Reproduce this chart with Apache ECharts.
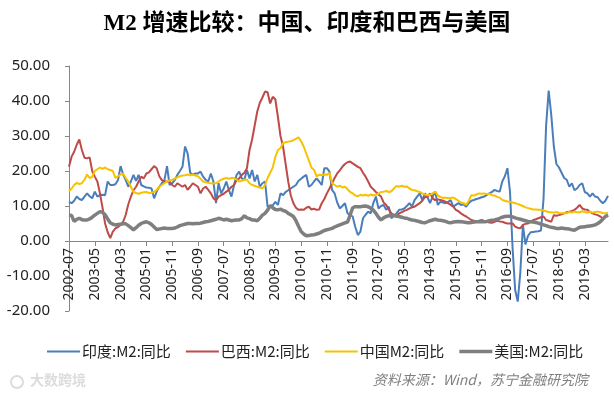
<!DOCTYPE html>
<html>
<head>
<meta charset="utf-8">
<script src="https://cdn.jsdelivr.net/npm/echarts@6/dist/echarts.min.js"></script>
<style>
html,body{margin:0;padding:0;background:#fff;}
#chart{width:614px;height:396px;}
</style>
</head>
<body>
<div id="chart"></div>
<script>
// Month categories: 2002-07 .. 2019-12
var startYear = 2002, startMonth = 7, monthCount = 210;
var categories = [];
for (var k = 0; k < monthCount; k++) {
  var m = startMonth - 1 + k;
  var yy = startYear + Math.floor(m / 12);
  var mm = (m % 12) + 1;
  categories.push(yy + '-' + (mm < 10 ? '0' + mm : mm));
}

var seriesNames = ['印度:M2:同比', '巴西:M2:同比', '中国M2:同比', '美国:M2:同比'];

var india = [
  11.2, 10.8, 11.5, 12.7, 12.0, 11.7, 12.7, 13.6, 12.8, 12.2,
  14.1, 12.7, 13.1, 13.2, 13.1, 17.0, 16.0, 16.0, 16.2, 17.4,
  21.4, 19.0, 17.4, 15.5, 17.0, 18.9, 17.2, 18.9, 16.0, 15.6,
  15.3, 15.2, 15.0, 12.2, 14.1, 15.5, 16.5, 17.4, 21.4, 16.0,
  16.5, 17.4, 18.9, 20.0, 21.2, 27.0, 25.0, 19.5, 19.0, 19.3,
  19.3, 19.8, 18.4, 17.5, 17.0, 19.3, 17.0, 10.8, 16.5, 13.6,
  15.0, 17.0, 14.5, 12.7, 16.0, 18.9, 19.8, 17.9, 17.5, 20.3,
  17.9, 20.3, 17.0, 18.9, 15.5, 16.5, 17.0, 9.8, 10.0, 10.2,
  11.2, 10.3, 13.6, 13.1, 14.0, 14.5, 15.0, 15.5, 16.0, 17.2,
  17.8, 18.4, 18.9, 15.5, 16.0, 17.0, 17.9, 17.0, 16.0, 20.8,
  20.8, 19.8, 14.6, 13.6, 11.0, 9.3, 10.0, 10.8, 7.9, 7.5,
  7.0, 4.0, 1.7, 2.7, 6.5, 7.5, 8.4, 7.9, 10.8, 12.7,
  9.3, 10.0, 10.3, 8.9, 9.8, 6.5, 7.2, 7.9, 8.9, 9.0,
  9.3, 10.0, 10.8, 9.8, 11.7, 12.7, 13.6, 11.7, 13.6, 12.5,
  10.8, 12.7, 14.1, 10.3, 11.2, 11.0, 10.8, 11.2, 11.7, 9.8,
  10.3, 10.8, 10.3, 10.5, 9.8, 10.8, 11.5, 11.7, 12.0, 12.2,
  12.5, 12.7, 13.2, 13.6, 14.0, 14.6, 14.3, 14.1, 17.0, 18.5,
  20.8, 14.0, -2.0, -14.0, -17.3, -9.0, 4.5, -1.0, 1.5, 2.5,
  2.6, 2.7, 2.8, 3.0, 12.0, 33.0, 43.0, 36.0, 27.0, 22.0,
  21.0, 19.5, 18.0, 17.5, 15.5, 16.5, 14.5, 15.0, 16.0, 16.5,
  14.0, 13.6, 12.7, 13.6, 12.7, 12.5, 11.5, 10.8, 11.5, 12.9
];

var brazil = [
  21.2, 24.1, 25.5, 27.5, 29.0, 26.0, 23.8, 23.6, 23.9, 20.0,
  18.4, 17.0, 13.6, 9.5, 5.0, 2.5, 0.8, 2.7, 3.6, 4.0,
  4.6, 5.5, 7.5, 10.5, 12.7, 14.5, 15.5, 17.0, 18.4, 17.9,
  19.3, 19.6, 20.5, 21.4, 20.8, 18.5, 17.4, 17.0, 17.0, 17.0,
  16.0, 15.5, 16.5, 16.0, 15.5, 16.0, 14.6, 15.5, 16.5, 16.0,
  15.5, 13.6, 15.0, 15.5, 14.6, 13.6, 12.2, 11.7, 12.7, 13.1,
  13.5, 14.1, 14.6, 15.5, 16.0, 17.4, 17.9, 18.9, 19.5, 20.8,
  26.0, 29.0, 33.0, 37.0, 39.5, 41.0, 42.7, 42.5, 39.3, 41.2,
  40.5, 35.5, 30.0, 27.0, 22.0, 17.0, 13.0, 10.8, 9.5, 8.9,
  9.0, 8.9, 9.5, 9.8, 9.0, 9.2, 8.9, 9.0, 10.8, 12.0,
  13.6, 15.0, 16.5, 18.0, 19.3, 20.2, 21.2, 22.0, 22.5, 22.7,
  22.2, 21.7, 21.2, 20.8, 19.5, 18.4, 17.0, 15.5, 14.8, 14.0,
  13.3, 12.7, 11.0, 10.3, 9.0, 7.9, 7.4, 7.0, 7.9, 8.2,
  8.6, 8.9, 9.3, 9.6, 9.8, 10.3, 10.8, 11.5, 12.5, 12.7,
  13.6, 12.2, 11.7, 11.9, 11.7, 11.5, 11.2, 10.8, 10.3, 9.8,
  8.9, 8.5, 7.9, 7.4, 7.0, 6.5, 6.0, 5.8, 5.5, 5.8,
  6.0, 5.7, 5.5, 5.3, 5.2, 5.5, 5.8, 5.6, 5.5, 5.2,
  5.0, 5.0, 5.0, 4.1, 3.8, 3.6, 4.6, 4.9, 5.0, 5.5,
  6.0, 6.2, 6.5, 6.8, 7.0, 6.0, 5.8, 5.5, 7.4, 7.2,
  7.4, 7.6, 7.9, 8.2, 8.4, 8.6, 8.9, 9.5, 10.3, 9.3,
  9.0, 8.9, 8.3, 7.9, 7.6, 7.4, 7.0, 6.5, 7.0, 7.4
];

var china = [
  14.2, 15.0, 16.0, 16.6, 16.3, 16.5, 17.5, 19.0, 18.0, 18.3,
  20.0, 20.5, 21.0, 20.6, 21.0, 20.5, 20.3, 20.0, 18.0, 18.5,
  19.0, 19.2, 18.0, 17.0, 15.5, 14.0, 13.7, 13.5, 13.8, 13.9,
  14.0, 13.7, 13.8, 14.0, 14.6, 15.5, 16.0, 16.5, 17.0, 17.3,
  17.5, 17.8, 18.2, 18.5, 18.7, 18.8, 19.0, 18.8, 19.0, 18.7,
  18.5, 17.8, 17.0, 16.8, 16.6, 16.5, 16.4, 16.5, 17.0, 17.5,
  17.8, 18.0, 17.8, 18.0, 18.0, 17.5, 17.0, 17.2, 17.6, 17.5,
  16.5, 16.0, 15.8, 15.5, 15.3, 15.0, 16.0, 18.0, 19.5, 21.0,
  24.0, 26.0, 26.5, 28.0, 28.2, 28.4, 28.5, 28.8, 29.2, 29.6,
  28.5, 27.0, 25.0, 23.0, 21.0, 20.3, 18.5, 18.9, 18.8, 19.0,
  18.9, 19.5, 16.5, 16.0, 15.5, 15.8, 15.3, 15.5, 14.8, 14.0,
  13.6, 13.0, 12.8, 13.2, 13.0, 13.2, 12.9, 13.3, 13.0, 13.2,
  13.5, 14.0, 14.1, 14.3, 14.0, 14.2, 15.0, 15.7, 15.5, 15.8,
  15.5, 15.6, 15.0, 14.6, 14.5, 14.2, 14.0, 13.6, 13.3, 13.1,
  13.2, 13.6, 14.1, 13.0, 12.6, 12.3, 12.4, 12.2, 12.3, 12.4,
  12.0, 11.5, 11.0, 10.8, 10.3, 11.5, 13.1, 13.0, 13.3, 13.6,
  13.5, 13.6, 13.4, 13.5, 13.1, 13.0, 12.6, 12.4, 11.7, 11.5,
  11.3, 11.2, 11.0, 10.8, 10.6, 10.3, 10.0, 9.6, 9.4, 9.2,
  9.0, 9.0, 8.9, 8.9, 8.7, 8.5, 8.3, 8.2, 8.1, 8.3,
  8.0, 7.9, 8.0, 7.9, 8.3, 8.1, 8.4, 8.2, 8.2, 8.5,
  8.3, 8.1, 8.4, 8.1, 8.3, 8.4, 8.2, 8.0, 7.9, 8.1
];

var usa = [
  7.4, 7.3, 5.6, 6.2, 6.5, 6.1, 6.0, 6.0, 6.3, 6.8,
  7.4, 7.9, 8.4, 8.2, 7.5, 6.3, 5.2, 4.8, 4.6, 4.7,
  4.8, 4.9, 4.9, 4.4, 3.8, 3.2, 3.8, 4.5, 5.0, 5.3,
  5.5, 5.2, 4.7, 4.0, 3.3, 3.4, 3.6, 3.7, 3.6, 3.6,
  3.6, 3.7, 4.0, 4.4, 4.6, 4.8, 5.0, 5.0, 4.9, 5.0,
  5.0, 5.1, 5.3, 5.5, 5.6, 5.8, 6.0, 6.2, 6.5, 6.3,
  6.0, 6.2, 6.0, 5.8, 5.9, 6.0, 6.0, 6.4, 7.2, 6.6,
  6.4, 6.0, 6.0, 5.8, 6.5, 7.4, 7.9, 8.8, 10.1, 9.5,
  9.0, 8.9, 9.1, 8.7, 8.5, 7.9, 7.5, 7.0, 5.8, 4.2,
  2.7, 2.0, 1.5, 1.6, 1.7, 1.8, 2.0, 2.2, 2.6, 3.0,
  3.2, 3.4, 3.6, 4.0, 4.3, 4.6, 4.9, 5.2, 5.4, 7.4,
  9.5, 9.8, 9.8, 9.8, 9.9, 10.0, 9.8, 9.4, 8.8, 7.9,
  6.8, 6.0, 6.6, 7.0, 7.2, 7.4, 7.3, 7.1, 7.0, 6.8,
  6.6, 6.5, 6.2, 6.0, 5.9, 5.7, 5.5, 5.3, 5.2, 5.5,
  5.8, 6.0, 6.2, 6.0, 5.9, 5.8, 5.6, 5.3, 5.2, 5.4,
  5.5, 5.6, 5.5, 5.4, 5.3, 5.2, 5.3, 5.4, 5.5, 5.5,
  5.5, 5.5, 5.6, 5.8, 5.9, 6.0, 6.2, 6.5, 6.8, 7.0,
  7.1, 7.1, 6.9, 6.6, 6.4, 6.2, 6.0, 5.8, 5.6, 5.5,
  5.4, 5.3, 5.1, 4.8, 4.6, 4.4, 4.1, 3.9, 3.8, 3.6,
  3.6, 3.7, 3.6, 3.5, 3.4, 3.2, 3.1, 3.5, 3.9, 4.0,
  4.1, 4.2, 4.3, 4.4, 4.6, 5.0, 5.5, 6.3, 7.0, 7.4
];

var yMin = -20, yMax = 50, yStep = 10;
var titleText = 'M2 增速比较：中国、印度和巴西与美国';
var sourceText = '资料来源：Wind，苏宁金融研究院';
var watermarkText = '大数跨境';

var colors = ['#4a7ebb', '#be4b48', '#f7c200', '#7f7f7f'];
var widths = [2, 2, 2, 3.5];
var dataList = [india, brazil, china, usa];

var thinIcon = 'path://M0,0L0,0M0,6L33,6L33,8L0,8ZM0,14L0,14';
var thickIcon = 'path://M0,0L0,0M0,5.2L33,5.2L33,8.8L0,8.8ZM0,14L0,14';

var chart = echarts.init(document.getElementById('chart'), null, {renderer: 'canvas'});
var series = seriesNames.map(function (n, i) {
  return {
    name: n,
    type: 'line',
    data: dataList[i],
    symbol: 'none',
    showSymbol: false,
    smooth: false,
    lineStyle: {color: colors[i], width: widths[i]},
    itemStyle: {color: colors[i]},
    emphasis: {disabled: true}
  };
});

// position of the zero line from the grid bottom, in pixels (grid height 245 for 70 units)
var gridTop = 66, gridBottom = 85, gridHeight = 396 - gridTop - gridBottom;
var zeroOffset = -gridHeight * (0 - yMin) / (yMax - yMin);

chart.setOption({
  animation: false,
  backgroundColor: '#ffffff',
  title: {
    text: titleText,
    left: 'center',
    top: 8,
    textStyle: {
      fontFamily: "'Liberation Serif', 'Noto Sans CJK SC', serif",
      fontWeight: 'bold',
      fontSize: 23,
      color: '#000'
    }
  },
  grid: {left: 69, right: 6, top: gridTop, bottom: gridBottom, containLabel: false},
  legend: {
    data: seriesNames.map(function (n, i) {
      return {name: n, icon: i === 3 ? thickIcon : thinIcon};
    }),
    left: 42,
    top: 339,
    itemWidth: 33,
    itemHeight: 14,
    itemGap: 15,
    itemStyle: {borderWidth: 0},
    textStyle: {fontFamily: "'Noto Sans CJK SC', sans-serif", fontSize: 15, color: '#222', padding: [0, 0, 0, -3]},
    selectedMode: false
  },
  xAxis: {
    type: 'category',
    data: categories,
    boundaryGap: false,
    position: 'bottom',
    offset: zeroOffset,
    axisLine: {onZero: false, lineStyle: {color: '#868686', width: 1}},
    axisTick: {interval: 9, length: 5, lineStyle: {color: '#868686'}},
    axisLabel: {
      interval: 9,
      rotate: 90,
      margin: 7,
      fontSize: 14,
      color: '#222',
      fontFamily: "'Noto Sans', sans-serif"
    },
    splitLine: {show: false}
  },
  yAxis: {
    type: 'value',
    min: yMin,
    max: yMax,
    interval: yStep,
    axisLine: {show: true, lineStyle: {color: '#868686', width: 1}},
    axisTick: {show: true, length: 4, lineStyle: {color: '#868686'}},
    axisLabel: {
      margin: 19,
      fontSize: 15,
      color: '#222',
      fontFamily: "'Noto Sans', sans-serif",
      formatter: function (v) { return v.toFixed(2); }
    },
    splitLine: {show: false}
  },
  graphic: [
    {
      type: 'text',
      right: 26,
      top: 373,
      style: {
        text: sourceText,
        font: "italic 14px 'Noto Sans CJK SC', sans-serif",
        fill: '#808080'
      }
    },
    {
      type: 'text',
      left: 30,
      top: 373,
      style: {
        text: watermarkText,
        font: "bold 14px 'Noto Sans CJK SC', sans-serif",
        fill: '#dcdcdc'
      }
    },
    {
      type: 'circle',
      shape: {cx: 17, cy: 382, r: 6},
      style: {fill: 'none', stroke: '#dcdcdc', lineWidth: 2}
    }
  ],
  series: series
});
</script>
</body>
</html>
